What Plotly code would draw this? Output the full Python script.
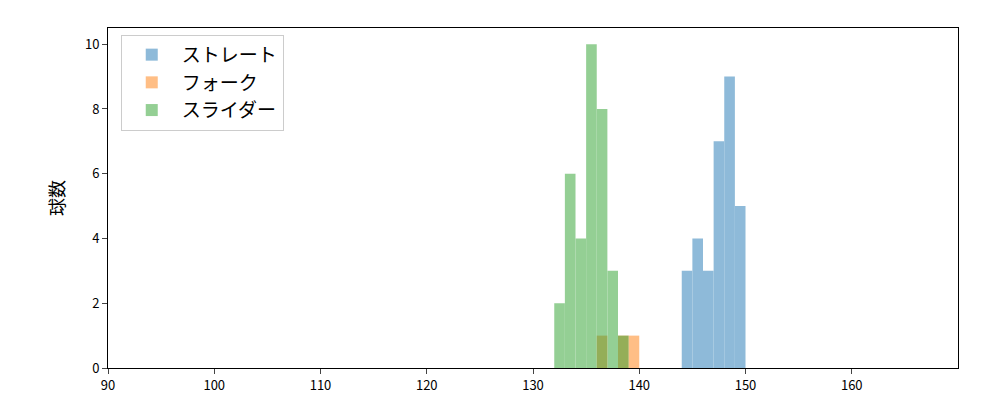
import plotly.graph_objects as go

st_x = [144.5, 145.5, 146.5, 147.5, 148.5, 149.5]
st_y = [3, 4, 3, 7, 9, 5]
fk_x = [136.5, 138.5, 139.5]
fk_y = [1, 1, 1]
sl_x = [132.5, 133.5, 134.5, 135.5, 136.5, 137.5, 138.5]
sl_y = [2, 6, 4, 10, 8, 3, 1]

fig = go.Figure()
for name, xs, ys, c in [("ストレート", st_x, st_y, "#1f77b4"),
                        ("フォーク", fk_x, fk_y, "#ff7f0e"),
                        ("スライダー", sl_x, sl_y, "#2ca02c")]:
    fig.add_trace(go.Bar(x=xs, y=ys, name=name, width=1, marker=dict(color=c, line_width=0), opacity=0.5))

fig.update_layout(
    width=1000, height=400, barmode="overlay", plot_bgcolor="white", paper_bgcolor="white",
    margin=dict(l=100, r=50, t=20, b=40),
    font=dict(family="Noto Sans CJK JP", color="black"),
    xaxis=dict(range=[90, 170], tickvals=list(range(90, 170, 10)), showgrid=False, showline=True,
               linecolor="black", mirror=True, ticks="outside", zeroline=False, tickfont_size=13),
    yaxis=dict(range=[0, 10.5], tickvals=list(range(0, 11, 2)), showgrid=False, showline=True,
               linecolor="black", mirror=True, ticks="outside", zeroline=False, tickfont_size=13,
               title=dict(text="球数", font_size=18, standoff=15)),
    legend=dict(x=0.015, y=0.98, xanchor="left", yanchor="top", font_size=19,
                bordercolor="#cccccc", borderwidth=1, bgcolor="white", itemwidth=50),
)
fig.write_html("out.html")
